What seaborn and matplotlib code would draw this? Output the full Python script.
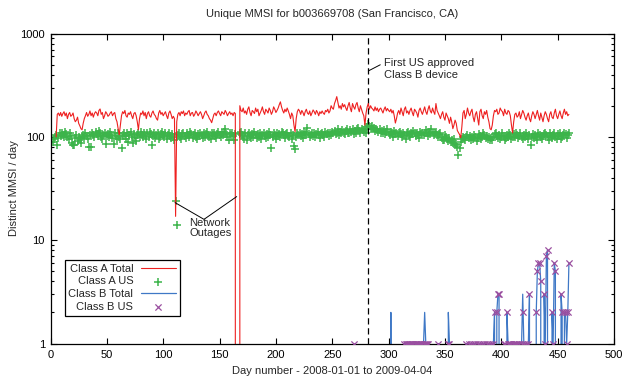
import numpy as np
import pandas as pd
import matplotlib
matplotlib.use("Agg")
import matplotlib.pyplot as plt
from matplotlib.ticker import FixedLocator, FixedFormatter, NullFormatter, LogLocator
import seaborn as sns

# Class A total per day, starting at day 5 (0 = network outage)
class_a_total_start = 5
class_a_total = [
    100, 165, 170, 160, 172, 158,                       # 5-10
    168, 175, 160, 170, 150, 165, 172, 158, 162, 170,   # 11-20
    150, 140, 145, 155, 135, 128, 120, 117, 135, 150,
    160, 172, 158, 165, 178, 160, 170, 155, 168, 175,
    170, 160, 180, 186, 165, 172, 150, 160, 175, 168,
    158, 162, 170, 175, 160, 168, 172, 150, 140, 120,
    105, 130, 160, 175, 168, 180, 160, 155, 170, 165,
    175, 160, 150, 168, 172, 160, 140, 117, 150, 170,
    165, 178, 160, 172, 150, 168, 175, 160, 155, 170,
    178, 165, 160, 150, 145, 170, 180, 165, 172, 160,
    168, 175, 160, 150, 170, 178, 165, 150, 158, 150,   # 101-110
    17,                                                 # 111
    140, 165, 172, 160, 175, 168, 178, 160, 170,        # 112-120
    165, 175, 180, 160, 170, 172, 158, 165, 178, 170,
    160, 168, 175, 165, 150, 160, 172, 178, 165, 160,
    150, 145, 137, 150, 165, 170, 160, 172, 178, 168,
    160, 175, 170, 165, 180, 172, 160, 168, 175, 165,
    170, 160, 172, 168,                                 # 161-164
    0, 0, 0,                                            # 165-167
    200, 180, 175,                                      # 168-170
    190, 170, 178, 165, 185, 195, 172, 160, 180, 175,
    168, 190, 175, 185, 160, 170, 180, 195, 175, 165,
    185, 178, 170, 190, 180, 165, 175, 195, 185, 172,
    180, 190, 205, 218, 195, 180, 170, 185, 175, 190,
    178, 165, 150, 170, 160, 130, 112, 150, 175, 185,
    178, 165, 180, 172, 160, 175, 185, 170, 165, 178,
    160, 170, 182, 175, 165, 180, 172, 160, 175, 168,
    178, 170, 165, 180, 175, 185, 170, 178, 200, 190,
    185, 210, 225, 245, 215, 190, 200, 185, 210, 195,
    205, 190, 180, 200, 215, 190, 175, 210, 195, 185,
    205, 215, 190, 175, 200, 185, 170, 160, 130, 170,
    195, 210, 185, 200, 190, 185, 178, 195, 180, 190,
    175, 185, 190, 180, 170, 185, 195, 178, 188, 180,
    175, 185, 170, 180, 160, 136, 150, 170, 180, 165,
    190, 175, 160, 185, 195, 170, 178, 165, 180, 190,
    172, 160, 185, 178, 170, 155, 180, 190, 175, 165,
    180, 195, 175, 165, 185, 200, 178, 170, 190, 175,
    165, 210, 180, 170, 160, 150, 165, 175, 155, 145,
    170, 160, 150, 135, 155, 140, 120, 130, 145, 135,
    115, 110, 105, 98, 125, 170, 180, 150, 165, 190,
    170, 160, 175, 185, 155, 140, 165, 175, 150, 130,
    175, 185, 160, 150, 175, 165, 180, 155, 140, 120,
    117, 130, 160, 180, 175, 185, 165, 170, 190, 180,
    175, 160, 185, 170, 165, 180, 175, 160, 130, 109,
    140, 165, 170, 155, 160, 175, 150, 165, 180, 170,
    155, 145, 160, 170, 150, 140, 160, 175, 165, 150,
    165, 180, 160, 145, 170, 155, 140, 160, 175, 165,
    150, 140, 165, 175, 155, 150, 170, 185, 160, 150,
    165, 178, 160, 150, 170, 185, 165, 175, 160, 165,   # 451-460
]

# Class A US per day, starting at day 2 (nan = no data)
nan = np.nan
class_a_us_start = 2
class_a_us = [
    90, 95, 100, 105, 83, 98, 108, 102, 110,            # 2-10
    104, 99, 112, 106, 100, 95, 108, 103, 88, 83,       # 11-20
    83, 97, 104, 92, 100, 95, 88, 100, 105, 98,
    108, 102, 96, 80, 104, 80, 110, 105, 100, 112,
    106, 103, 115, 108, 100, 96, 104, 110, 85, 102,
    107, 99, 112, 104, 98, 85, 108, 102, 96, 110,
    100, 95, 78, 105, 110, 102, 96, 108, 90, 104,
    112, 100, 88, 106, 98, 92, 104, 108, 100, 112,
    105, 99, 110, 104, 96, 108, 100, 112, 106, 83,
    102, 108, 98, 104, 110, 96, 100, 106, 112, 104,
    100, 108, 96, 104, 110, 102, 98, 106, 100, 94,      # 101-110
    24, 14,                                             # 111-112
    104, 108, 100, 96, 106, 110, 102, 98,               # 113-120
    108, 104, 100, 112, 106, 98, 104, 110, 100, 96,
    106, 102, 110, 104, 98, 108, 100, 106, 112, 104,
    100, 96, 108, 104, 110, 102, 98, 106, 112, 104,
    100, 108, 104, 112, 119, 106, 100, 94, 108, 104,
    110, 102, 94, 106,                                  # 161-164
    nan, nan, nan,                                      # 165-167
    108, 112, 104,                                      # 168-170
    100, 96, 108, 94, 104, 110, 102, 98, 106, 100,
    112, 104, 98, 106, 100, 108, 96, 104, 110, 102,
    98, 106, 100, 112, 104, 78, 100, 108, 104, 96,
    110, 102, 106, 100, 112, 108, 104, 98, 106, 110,
    102, 100, 108, 96, 104, 82, 76, 100, 108, 104,
    110, 102, 106, 98, 112, 104, 108, 122, 106, 100,
    104, 110, 102, 108, 100, 106, 112, 104, 98, 106,
    110, 104, 100, 112, 106, 108, 102, 110, 104, 112,
    108, 114, 106, 110, 118, 104, 112, 108, 116, 110,
    106, 114, 120, 110, 108, 116, 112, 118, 106, 114,
    110, 118, 122, 114, 108, 120, 116, 112, 118, 110,
    124, 132, 128, 120, 126, 118, 122, 114, 120, 116,
    112, 118, 108, 114, 110, 116, 106, 112, 118, 110,
    104, 112, 108, 100, 114, 106, 110, 102, 108, 112,
    106, 100, 110, 104, 96, 108, 112, 104, 100, 110,
    106, 114, 108, 102, 110, 104, 98, 112, 106, 110,
    104, 108, 116, 110, 102, 112, 106, 118, 110, 104,
    108, 112, 104, 100, 106, 110, 98, 94, 94, 104,
    100, 96, 92, 98, 90, 94, 88, 96, 83, 86,
    80, 66, 78, 90, 96, 100, 98, 94, 100, 104,
    98, 102, 94, 100, 96, 104, 100, 92, 98, 106,
    102, 96, 100, 108, 104, 98, 102, 96, 100, 94,
    98, 93, 100, 106, 110, 102, 98, 104, 96, 100,
    108, 102, 94, 98, 104, 100, 110, 104, 96, 100,
    106, 100, 110, 104, 98, 102, 108, 100, 96, 104,
    100, 108, 102, 96, 104, 83, 100, 106, 98, 104,
    100, 94, 108, 104, 100, 96, 102, 106, 110, 104,
    100, 94, 108, 102, 98, 104, 110, 100, 96, 106,
    102, 108, 96, 100, 104, 110, 106, 98, 104, 108,     # 451-460
]

# Class B total: days with a non-zero count (all other days are 0)
class_b_total_days = [
    269, 302, 314, 315, 316, 317, 318, 319, 320, 321, 322, 323, 324, 325,
    326, 327, 328, 329, 330, 331, 332, 333, 334, 335, 344, 353, 354,
    369, 371, 373, 375, 377, 379, 381, 383, 385, 387, 389, 391, 393,
    394, 396, 397, 398, 402, 403, 405, 406, 407, 408, 409, 410, 411, 412,
    413, 414, 416, 418, 419, 420, 422, 424, 425, 431, 432, 433, 434, 435,
    438, 439, 440, 441, 445, 446, 447, 448, 453, 454, 456, 457, 458, 459, 460,
]
class_b_total_vals = [
    1, 2, 1, 1, 1, 1, 1, 1, 1, 1, 1, 1, 1, 1,
    1, 1, 1, 1, 1, 1, 2, 1, 1, 1, 1, 2, 1,
    1, 1, 1, 1, 1, 1, 1, 1, 1, 1, 1, 1, 1,
    2, 2, 3, 3, 1, 1, 2, 1, 1, 1, 1, 1, 1, 1,
    1, 1, 1, 1, 3, 1, 1, 1, 3, 2, 5, 6, 6, 4,
    3, 1, 7, 8, 2, 1, 6, 5, 3, 2, 2, 2, 1, 2, 6,
]

# Class B US: days with a non-zero count
class_b_us_days = [
    269, 314, 315, 316, 317, 318, 319, 320, 321, 322, 323, 324, 325,
    326, 327, 328, 329, 330, 331, 332, 333, 334, 335, 344, 353, 354,
    369, 371, 373, 375, 377, 379, 381, 383, 385, 387, 389, 391, 393,
    394, 396, 397, 398, 402, 403, 405, 406, 407, 408, 409, 410, 411, 412,
    413, 414, 416, 418, 419, 420, 422, 424, 425, 431, 432, 433, 434, 435,
    438, 439, 440, 441, 445, 446, 447, 448, 453, 454, 456, 457, 458, 459, 460,
]
class_b_us_vals = [
    1, 1, 1, 1, 1, 1, 1, 1, 1, 1, 1, 1, 1,
    1, 1, 1, 1, 1, 1, 1, 1, 1, 1, 1, 1, 1,
    1, 1, 1, 1, 1, 1, 1, 1, 1, 1, 1, 1, 1,
    2, 2, 3, 3, 1, 1, 2, 1, 1, 1, 1, 1, 1, 1,
    1, 1, 1, 1, 2, 1, 1, 1, 3, 2, 5, 6, 6, 4,
    3, 1, 7, 8, 2, 1, 6, 5, 3, 2, 2, 2, 1, 2, 6,
]

x_ticks = [0, 50, 100, 150, 200, 250, 300, 350, 400, 450, 500]
y_ticks = [1, 10, 100, 1000]
y_tick_labels = ["1", "10", "100", "1000"]

RED = "#ee2020"
GREEN = "#3cb44a"
BLUE = "#3f78c6"
PURPLE = "#9a4fa0"
FS = 8

sns.set_theme(style="ticks")
plt.rcParams["font.family"] = ["Liberation Sans", "DejaVu Sans"]
plt.rcParams["font.size"] = FS

df_a = pd.DataFrame({
    "day": np.arange(class_a_total_start, class_a_total_start + len(class_a_total)),
    "count": class_a_total,
})
df_a_us = pd.DataFrame({
    "day": np.arange(class_a_us_start, class_a_us_start + len(class_a_us)),
    "count": class_a_us,
}).dropna()
b_total = pd.Series(0.0, index=np.arange(1, 461))
b_total[class_b_total_days] = class_b_total_vals
df_b = pd.DataFrame({"day": b_total.index, "count": b_total.values})
df_b_us = pd.DataFrame({"day": class_b_us_days, "count": class_b_us_vals})

fig = plt.figure(figsize=(6.32, 3.81), dpi=100)
ax = fig.add_axes([50.5 / 632, 37.5 / 381, 563.5 / 632, 310 / 381])

sns.lineplot(data=df_a, x="day", y="count", color=RED, lw=0.8,
             estimator=None, sort=False, label="Class A Total", ax=ax)
sns.scatterplot(data=df_a_us, x="day", y="count", marker="+", color=GREEN,
                s=30, linewidth=1.1, label="Class A US", ax=ax)
sns.lineplot(data=df_b, x="day", y="count", color=BLUE, lw=0.9,
             estimator=None, sort=False, label="Class B Total", ax=ax)
sns.scatterplot(data=df_b_us, x="day", y="count", marker="x", color=PURPLE,
                s=20, linewidth=0.9, label="Class B US", ax=ax, zorder=4)

ax.set_yscale("log")
ax.set_xlim(0, 500)
ax.set_ylim(1, 1000)
ax.xaxis.set_major_locator(FixedLocator(x_ticks))
ax.yaxis.set_major_locator(FixedLocator(y_ticks))
ax.yaxis.set_major_formatter(FixedFormatter(y_tick_labels))
ax.yaxis.set_minor_locator(LogLocator(base=10, subs=np.arange(2, 10)))
ax.yaxis.set_minor_formatter(NullFormatter())
ax.tick_params(which="both", direction="in", top=True, right=True,
               colors="black", labelsize=FS, width=0.8)
ax.tick_params(which="major", length=4)
ax.tick_params(which="minor", length=2.2)
ax.tick_params(axis="x", pad=5)
ax.tick_params(axis="y", pad=4)
for sp in ax.spines.values():
    sp.set_color("black")
    sp.set_linewidth(0.9)

ax.set_title("Unique MMSI for b003669708 (San Francisco, CA)", fontsize=FS, pad=12)
ax.set_xlabel("Day number - 2008-01-01 to 2009-04-04", fontsize=FS, labelpad=4)
ax.set_ylabel("Distinct MMSI / day", fontsize=FS, labelpad=1)

# first US approved Class B device
ax.axvline(282, color="black", lw=0.9, ls=(0, (5, 3)), zorder=1)
ax.annotate("First US approved\nClass B device", xy=(282, 434), xytext=(295.5, 575),
            fontsize=FS, va="top", ha="left", linespacing=1.2,
            arrowprops=dict(arrowstyle="-", color="black", lw=0.7,
                            shrinkA=0, shrinkB=0, relpos=(0, 0.78)))

# network outages
ax.plot([110.5, 136.2, 165.2], [23.1, 15.9, 26.4], color="black", lw=0.7)
ax.text(123.2, 16.3, "Network\nOutages", fontsize=FS, va="top", ha="left",
        linespacing=1.0)

leg = ax.legend(loc="lower left", bbox_to_anchor=(0.025, 0.089), borderaxespad=0,
                markerfirst=False, fancybox=False, framealpha=1, edgecolor="black",
                fontsize=FS, handlelength=3.2, handletextpad=0.65,
                labelspacing=0.25, borderpad=0.35)
leg.get_frame().set_linewidth(0.9)

fig.savefig("out.png", dpi=100)
